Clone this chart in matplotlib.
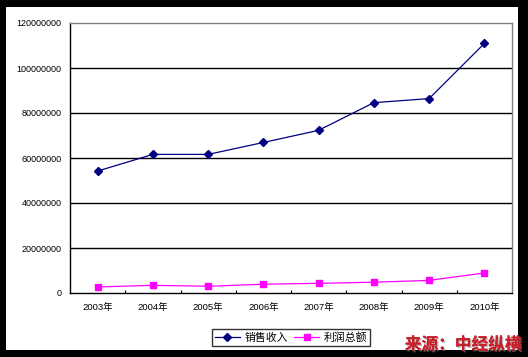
import numpy as np
import matplotlib
matplotlib.use("Agg")
import matplotlib.pyplot as plt
from matplotlib.patches import Rectangle
from matplotlib.ticker import FuncFormatter, FixedLocator
import matplotlib.patheffects as pe

plt.rcParams['font.family'] = ['Liberation Sans', 'Noto Sans CJK SC', 'DejaVu Sans']

years = ["2003年", "2004年", "2005年", "2006年", "2007年", "2008年", "2009年", "2010年"]
sales = [54200000, 61600000, 61600000, 66900000, 72300000, 84600000, 86400000, 110900000]
profit = [2700000, 3400000, 3000000, 3900000, 4300000, 4800000, 5600000, 8900000]
series_names = ["销售收入", "利润总额"]

W, H = 528, 357
fig = plt.figure(figsize=(W / 100, H / 100), dpi=100)
fig.patch.set_facecolor("white")

# black picture frame
for (x0, y0, w, h) in [(0, 0, 6, H), (0, 0, W, 7), (518, 0, 10, H), (0, 350, W, 7)]:
    fig.patches.append(Rectangle((x0 / W, 1 - (y0 + h) / H), w / W, h / H,
                                 transform=fig.transFigure, facecolor="black", edgecolor="none", zorder=0))

left, right, top, bottom = 70, 512, 23, 293
ax = fig.add_axes([left / W, 1 - bottom / H, (right - left) / W, (bottom - top) / H])
x = np.arange(len(years))

ax.plot(x, sales, color="#000080", lw=0.9, marker="D", ms=4.5, label=series_names[0], zorder=3)
ax.plot(x, profit, color="#FF00FF", lw=0.9, marker="s", ms=5, label=series_names[1], zorder=3)

ax.set_xlim(-0.5, len(years) - 0.5)
ax.set_ylim(0, 120000000)
ax.set_yticks(np.arange(0, 120000001, 20000000))
ax.yaxis.set_major_formatter(FuncFormatter(lambda v, p: f"{int(v)}"))
ax.set_xticks(x)
ax.set_xticklabels(years)
ax.xaxis.set_minor_locator(FixedLocator(np.arange(0.5, len(years) - 0.5, 1)))

for v in range(20000000, 120000000, 20000000):
    ax.axhline(v, color="black", lw=1, zorder=1)

ax.spines["top"].set_color("#808080")
ax.spines["right"].set_color("#808080")
ax.spines["left"].set_color("black")
ax.spines["bottom"].set_color("black")
for s in ax.spines.values():
    s.set_linewidth(1)

ax.tick_params(axis="y", length=0, pad=6, labelsize=6.5, colors="black")
ax.tick_params(axis="x", which="major", length=0, pad=7, labelsize=6.8)
ax.tick_params(axis="x", which="minor", direction="in", length=2, width=0.8)

leg = fig.legend(loc="center", bbox_to_anchor=(291 / W, 1 - 337.5 / H), ncol=2, frameon=True,
                 fancybox=False, edgecolor="black", handlelength=2.3,
                 columnspacing=0.6, handletextpad=0.4, borderpad=0.25, borderaxespad=0,
                 prop={"family": ["Noto Sans CJK SC"], "size": 7.8})
leg.get_frame().set_linewidth(1)

fig.text(463 / W, 1 - 344.5 / H, "来源：中经纵横", family=["Noto Sans CJK SC"], fontsize=12,
         fontweight="bold", color="#C8202A", ha="center", va="center", zorder=5,
         path_effects=[pe.withSimplePatchShadow(offset=(1, -1), shadow_rgbFace="#888888", alpha=0.6), pe.Normal()])

fig.savefig("out.png", dpi=100)
